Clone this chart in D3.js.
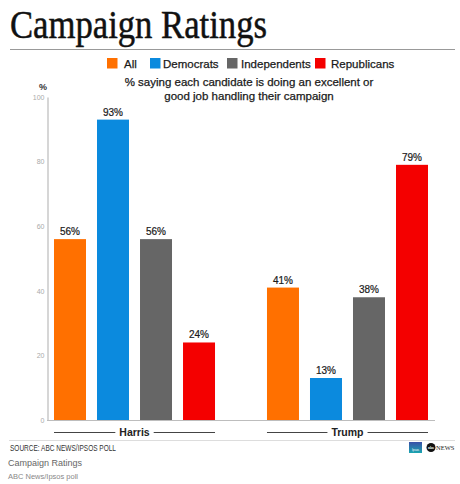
<!DOCTYPE html>
<html><head><meta charset="utf-8">
<script src="https://cdn.jsdelivr.net/npm/d3@7"></script>
<style>
body{margin:0;background:#fff;}
text{font-family:"Liberation Sans",Arial,sans-serif;}
</style></head>
<body><svg id="c" width="460" height="484"></svg>
<script>
const candidates = ["Harris", "Trump"];
const seriesNames = ["All", "Democrats", "Independents", "Republicans"];
const seriesColors = ["#ff7000", "#0b8ade", "#666666", "#f40000"];
const allVals = [56, 41];
const demVals = [93, 13];
const indVals = [56, 38];
const repVals = [24, 79];
const yTicks = [0, 20, 40, 60, 80, 100];

const seriesVals = [allVals, demVals, indVals, repVals];
const svg = d3.select("#c");

// title
svg.append("text").attr("x", 10).attr("y", 37.5)
  .style("font-family", "'Liberation Serif','Times New Roman',serif")
  .attr("font-size", 39).attr("fill", "#111").attr("stroke", "#111").attr("stroke-width", 0.5)
  .attr("textLength", 257).attr("lengthAdjust", "spacingAndGlyphs")
  .text("Campaign Ratings");
svg.append("line").attr("x1", 10).attr("x2", 455).attr("y1", 49.5).attr("y2", 49.5)
  .attr("stroke", "#999").attr("stroke-width", 1);

// legend
const legSquareX = [107, 150, 227, 315];
const legTextX = [124, 163, 241, 331];
seriesNames.forEach((s, i) => {
  svg.append("rect").attr("x", legSquareX[i]).attr("y", 58).attr("width", 10.5).attr("height", 10.5).attr("fill", seriesColors[i]);
  svg.append("text").attr("x", legTextX[i]).attr("y", 67.5).attr("font-size", 11.5).attr("fill", "#1a1a1a")
    .attr("stroke", "#1a1a1a").attr("stroke-width", 0.25).text(s);
});

// subtitle
const sub = svg.append("text").attr("text-anchor", "middle").attr("font-size", 11.5).attr("fill", "#1a1a1a")
  .attr("stroke", "#1a1a1a").attr("stroke-width", 0.25);
sub.append("tspan").attr("x", 249).attr("y", 86).text("% saying each candidate is doing an excellent or");
sub.append("tspan").attr("x", 249).attr("y", 100).text("good job handling their campaign");

svg.append("text").attr("x", 43).attr("y", 90).attr("text-anchor", "middle").attr("font-size", 9)
  .attr("font-weight", "bold").attr("fill", "#333").text("%");

// scales
const y = d3.scaleLinear().domain([0, 100]).range([420, 97]);
const x0 = d3.scaleBand().domain(candidates).range([54, 428]).paddingInner(0.244).paddingOuter(0);
const x1 = d3.scaleBand().domain(seriesNames).range([0, x0.bandwidth()]).paddingInner(0.256).paddingOuter(0);

// y axis
const yAxis = svg.append("g").attr("transform", "translate(47.5,0)")
  .call(d3.axisLeft(y).tickValues(yTicks).tickSize(0).tickPadding(3));
yAxis.select(".domain").attr("stroke", "#c8c8c8").attr("stroke-width", 1.5);
yAxis.selectAll("text").attr("fill", "#aaa").attr("font-size", 7).style("font-family", "'Liberation Sans',Arial,sans-serif");

// baseline
svg.append("line").attr("x1", 47).attr("x2", 435).attr("y1", y(0) + 0.5).attr("y2", y(0) + 0.5)
  .attr("stroke", "#bdbdbd").attr("stroke-width", 1.2);

// bars
candidates.forEach((c, ci) => {
  const g = svg.append("g").attr("transform", `translate(${x0(c)},0)`);
  seriesNames.forEach((s, si) => {
    const v = seriesVals[si][ci];
    g.append("rect").attr("x", x1(s)).attr("y", y(v)).attr("width", x1.bandwidth())
      .attr("height", y(0) - y(v)).attr("fill", seriesColors[si]);
    g.append("text").attr("x", x1(s) + x1.bandwidth() / 2).attr("y", y(v) - 4)
      .attr("text-anchor", "middle").attr("font-size", 10).attr("fill", "#1a1a1a")
      .attr("stroke", "#1a1a1a").attr("stroke-width", 0.2).text(v + "%");
  });
  // group label with lines
  const lbl = g.append("text").attr("x", x0.bandwidth() / 2).attr("y", 436)
    .attr("text-anchor", "middle").attr("font-size", 10.5).attr("font-weight", "bold").attr("fill", "#222").text(c);
  const w = lbl.node().getComputedTextLength();
  g.append("line").attr("x1", 0).attr("x2", x0.bandwidth() / 2 - w / 2 - 4).attr("y1", 432.5).attr("y2", 432.5)
    .attr("stroke", "#444").attr("stroke-width", 1);
  g.append("line").attr("x1", x0.bandwidth() / 2 + w / 2 + 4).attr("x2", x0.bandwidth()).attr("y1", 432.5).attr("y2", 432.5)
    .attr("stroke", "#444").attr("stroke-width", 1);
});

// footer
svg.append("line").attr("x1", 9).attr("x2", 455).attr("y1", 440.5).attr("y2", 440.5).attr("stroke", "#ddd").attr("stroke-width", 1);
svg.append("text").attr("x", 10).attr("y", 451).attr("font-size", 8.5).attr("fill", "#333")
  .attr("textLength", 106).attr("lengthAdjust", "spacingAndGlyphs").text("SOURCE: ABC NEWS/IPSOS POLL");

// logos
const ipg = svg.append("defs").append("linearGradient").attr("id", "ipg").attr("x1", 0).attr("y1", 0).attr("x2", 0).attr("y2", 1);
ipg.append("stop").attr("offset", "0%").attr("stop-color", "#3a4fa8");
ipg.append("stop").attr("offset", "100%").attr("stop-color", "#1aa6b0");
svg.append("rect").attr("x", 409).attr("y", 442).attr("width", 13).attr("height", 11).attr("fill", "url(#ipg)");
svg.append("text").attr("x", 415.5).attr("y", 451).attr("text-anchor", "middle").attr("font-size", 3).attr("fill", "#fff").text("Ipsos");
svg.append("circle").attr("cx", 431).attr("cy", 447.5).attr("r", 4.5).attr("fill", "#111");
svg.append("text").attr("x", 431).attr("y", 449).attr("text-anchor", "middle").attr("font-size", 3.5).attr("font-weight", "bold").attr("fill", "#fff").text("abc");
svg.append("text").attr("x", 436).attr("y", 450).attr("font-size", 6.5)
  .style("font-family", "'Liberation Serif',serif").attr("fill", "#222").text("NEWS");

svg.append("text").attr("x", 8).attr("y", 466).attr("font-size", 9).attr("fill", "#666").text("Campaign Ratings");
svg.append("text").attr("x", 8).attr("y", 479).attr("font-size", 7.5).attr("fill", "#888").text("ABC News/Ipsos poll");
</script></body></html>
